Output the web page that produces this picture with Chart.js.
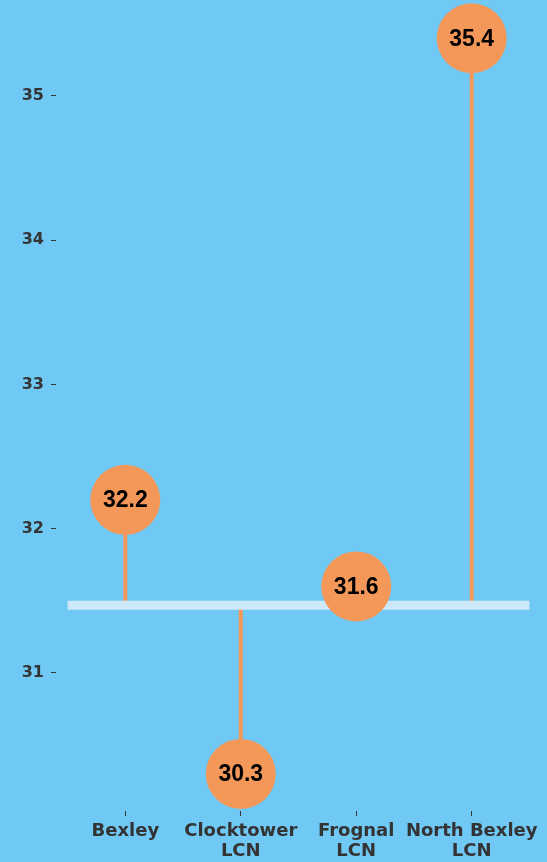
<!DOCTYPE html>
<html>
<head>
<meta charset="utf-8">
<script src="https://cdn.jsdelivr.net/npm/chart.js@4"></script>
<style>
  html, body { margin: 0; padding: 0; background: #70c8f4; }
  #wrap { width: 547px; height: 862px; }
</style>
</head>
<body>
<div id="wrap"><canvas id="chart"></canvas></div>
<script>
// Data
const categories = [['Bexley'], ['Clocktower', 'LCN'], ['Frognal', 'LCN'], ['North Bexley', 'LCN']];
const values = [32.2, 30.3, 31.6, 35.4];
const baseline = 31.47;
const yTicks = [31, 32, 33, 34, 35];

const orange = '#f4985a';
const textDark = '#333333';

// stems from the baseline to each value
const stemSets = values.map(function (v, i) {
    return {
        type: 'line',
        data: [{ x: i + 1, y: baseline }, { x: i + 1, y: v }],
        borderColor: orange,
        borderWidth: 4,
        borderCapStyle: 'butt',
        pointRadius: 0,
        order: 3
    };
});

// labels inside the circles
const valueLabels = {
    id: 'valueLabels',
    afterDatasetsDraw(chart) {
        const meta = chart.getDatasetMeta(0);
        const ctx = chart.ctx;
        ctx.save();
        ctx.fillStyle = '#000';
        ctx.font = 'bold 23px "Liberation Sans", Arial, sans-serif';
        ctx.textAlign = 'center';
        ctx.textBaseline = 'middle';
        meta.data.forEach(function (pt, i) {
            ctx.fillText(values[i].toFixed(1), pt.x, pt.y + 1);
        });
        ctx.restore();
    }
};

new Chart(document.getElementById('chart'), {
    type: 'scatter',
    data: {
        datasets: [
            {
                data: values.map(function (v, i) { return { x: i + 1, y: v }; }),
                backgroundColor: orange,
                borderWidth: 0,
                pointRadius: 35,
                pointHoverRadius: 35,
                clip: false,
                order: 1
            },
            {
                type: 'line',
                data: [{ x: 0.5, y: baseline }, { x: categories.length + 0.5, y: baseline }],
                borderColor: '#cde9f9',
                borderWidth: 9,
                borderCapStyle: 'butt',
                pointRadius: 0,
                order: 2
            }
        ].concat(stemSets)
    },
    options: {
        responsive: true,
        maintainAspectRatio: false,
        animation: false,
        events: [],
        layout: { autoPadding: false, padding: { top: 0, right: 6, left: 0, bottom: 0 } },
        plugins: {
            legend: { display: false },
            tooltip: { enabled: false }
        },
        scales: {
            x: {
                type: 'linear',
                min: 0.4,
                max: categories.length + 0.6,
                afterBuildTicks: function (axis) {
                    axis.ticks = categories.map(function (c, i) { return { value: i + 1 }; });
                },
                afterFit: function (axis) {
                    axis.height = 51;
                    axis.paddingLeft = 0;
                    axis.paddingRight = 0;
                },
                border: { display: false },
                grid: {
                    drawOnChartArea: false,
                    drawTicks: true,
                    tickLength: 5,
                    color: textDark,
                    lineWidth: 1
                },
                ticks: {
                    autoSkip: false,
                    maxRotation: 0,
                    padding: 6,
                    color: textDark,
                    font: { family: 'DejaVu Sans, sans-serif', weight: 'bold', size: 18, lineHeight: 1.08 },
                    callback: function (value) { return categories[value - 1] || ''; }
                }
            },
            y: {
                min: 30.043,
                max: 35.665,
                afterBuildTicks: function (axis) {
                    axis.ticks = yTicks.map(function (t) { return { value: t }; });
                },
                afterFit: function (axis) {
                    axis.width = 56;
                    axis.paddingTop = 0;
                    axis.paddingBottom = 0;
                },
                border: { display: false },
                grid: {
                    drawOnChartArea: false,
                    drawTicks: true,
                    tickLength: 5,
                    color: textDark,
                    lineWidth: 1
                },
                ticks: {
                    padding: 7,
                    color: textDark,
                    font: { family: 'DejaVu Sans, sans-serif', weight: 'bold', size: 16 }
                }
            }
        }
    },
    plugins: [valueLabels]
});
</script>
</body>
</html>
